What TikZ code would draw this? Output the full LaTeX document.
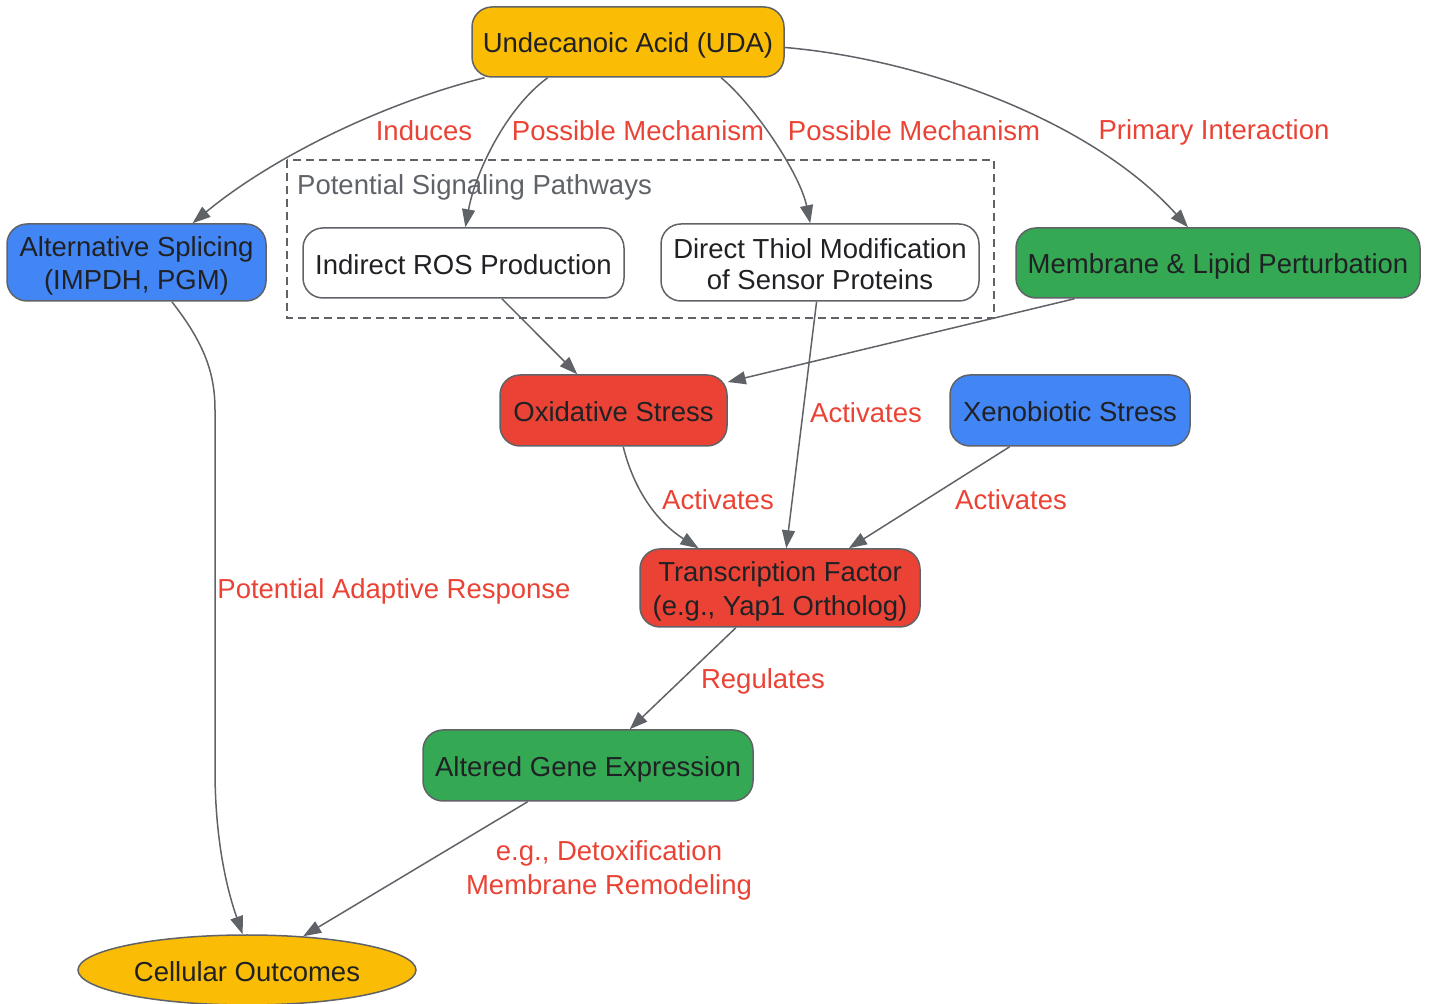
\documentclass[tikz,border=0pt]{standalone}
\usepackage{fontspec}
\setmainfont{Liberation Sans}
\usetikzlibrary{arrows.meta,shapes.geometric}
\definecolor{gy}{HTML}{5F6368}
\definecolor{tx}{HTML}{202124}
\definecolor{lr}{HTML}{EA4335}
\definecolor{yel}{HTML}{FBBC05}
\definecolor{blu}{HTML}{4285F4}
\definecolor{grn}{HTML}{34A853}
\definecolor{rd}{HTML}{EA4335}
\newcommand\sst{\rule[-4pt]{0pt}{31pt}}
\begin{document}
\begin{tikzpicture}[x=1pt,y=1pt,
  every node/.style={font=\fontsize{27.5}{31}\selectfont},
  box/.style={draw=gy, line width=1.5pt, rounded corners=20pt, align=center, inner sep=0pt, text=tx},
  lbl/.style={text=lr, align=center, inner sep=0pt},
  edge/.style={draw=gy, line width=1.5pt, -{Triangle[length=18pt,width=13pt]}}]
\useasboundingbox (0,0) rectangle (1430,1004);
% cluster
\draw[gy, line width=1.5pt, dash pattern=on 8pt off 5pt] (287,844) rectangle (994,686);
\node[anchor=west, text=gy, inner sep=0pt] (clab) at (297,820) {\sst Potential Signaling Pathways};
% nodes
\node[box, fill=yel, minimum width=312pt, minimum height=70pt] (uda) at (628,962) {\sst Undecanoic Acid (UDA)};
\node[box, fill=blu, minimum width=259pt, minimum height=77pt] (alt) at (136.5,741.5) {\sst Alternative Splicing\\\sst (IMPDH, PGM)};
\node[box, fill=white, minimum width=321pt, minimum height=70pt] (ros) at (463.5,741) {\sst Indirect ROS Production};
\node[box, fill=white, minimum width=318pt, minimum height=77pt] (thiol) at (820,741.5) {\sst Direct Thiol Modification\\\sst of Sensor Proteins};
\node[box, fill=grn, minimum width=404pt, minimum height=70pt] (mem) at (1218,741) {\sst Membrane \& Lipid Perturbation};
\node[box, fill=rd, minimum width=227pt, minimum height=71pt] (ox) at (613.5,593.5) {\sst Oxidative Stress};
\node[box, fill=blu, minimum width=240pt, minimum height=71pt] (xeno) at (1070,593.5) {\sst Xenobiotic Stress};
\node[box, fill=rd, minimum width=280pt, minimum height=78pt] (tf) at (780,416) {\sst Transcription Factor\\\sst (e.g., Yap1 Ortholog)};
\node[box, fill=grn, minimum width=330pt, minimum height=71pt] (gene) at (588,238.5) {\sst Altered Gene Expression};
\node[ellipse, draw=gy, line width=1.5pt, fill=yel, text=tx, inner sep=0pt, minimum width=338pt, minimum height=70pt] (cell) at (247,34) {\sst Cellular Outcomes};
% edges
\draw[edge] (uda.-166.5) .. controls (380,900) and (270,845) .. (alt.35.7);
\draw[edge] (uda.-156.4) .. controls (505,895) and (475,830) .. (ros.87.5);
\draw[edge] (uda.-21.7) .. controls (755,898) and (800,830) .. (thiol.104.6);
\draw[edge] (uda.-2.9) .. controls (920,945) and (1090,885) .. (mem.130.6);
\draw[edge] (ros.-43.8) -- (ox.135.8);
\draw[edge] (mem.194.4) -- (ox.14.2);
\draw[edge] (thiol.-95.9) -- (tf.81.3);
\draw[edge] (ox.-75) .. controls (635,510) and (660,480) .. (tf.154.6);
\draw[edge] (xeno.211.5) -- (tf.30.6);
\draw[edge] (alt.-48.9) .. controls (205,660) and (215,630) .. (215,594) -- (215,234) .. controls (215,170) and (225,120) .. (cell.97);
\draw[edge] (tf.222.9) -- (gene.41.6);
\draw[edge] (gene.211.5) -- (cell.31.8);
% labels
\node[lbl] (l1) at (424,875) {\sst Induces};
\node[lbl] (l2) at (638,875) {\sst Possible Mechanism};
\node[lbl] (l3) at (914,875) {\sst Possible Mechanism};
\node[lbl] (l4) at (1214,875) {\sst Primary Interaction};
\node[lbl] (l5) at (866,593) {\sst Activates};
\node[lbl] (l6) at (718,506) {\sst Activates};
\node[lbl] (l7) at (1011,506) {\sst Activates};
\node[lbl] (l8) at (394,416) {\sst Potential Adaptive Response};
\node[lbl] (l9) at (763,326) {\sst Regulates};
\node[lbl] (l10) at (609,137) {\sst e.g., Detoxification\\\sst Membrane Remodeling};
\end{tikzpicture}
\end{document}
